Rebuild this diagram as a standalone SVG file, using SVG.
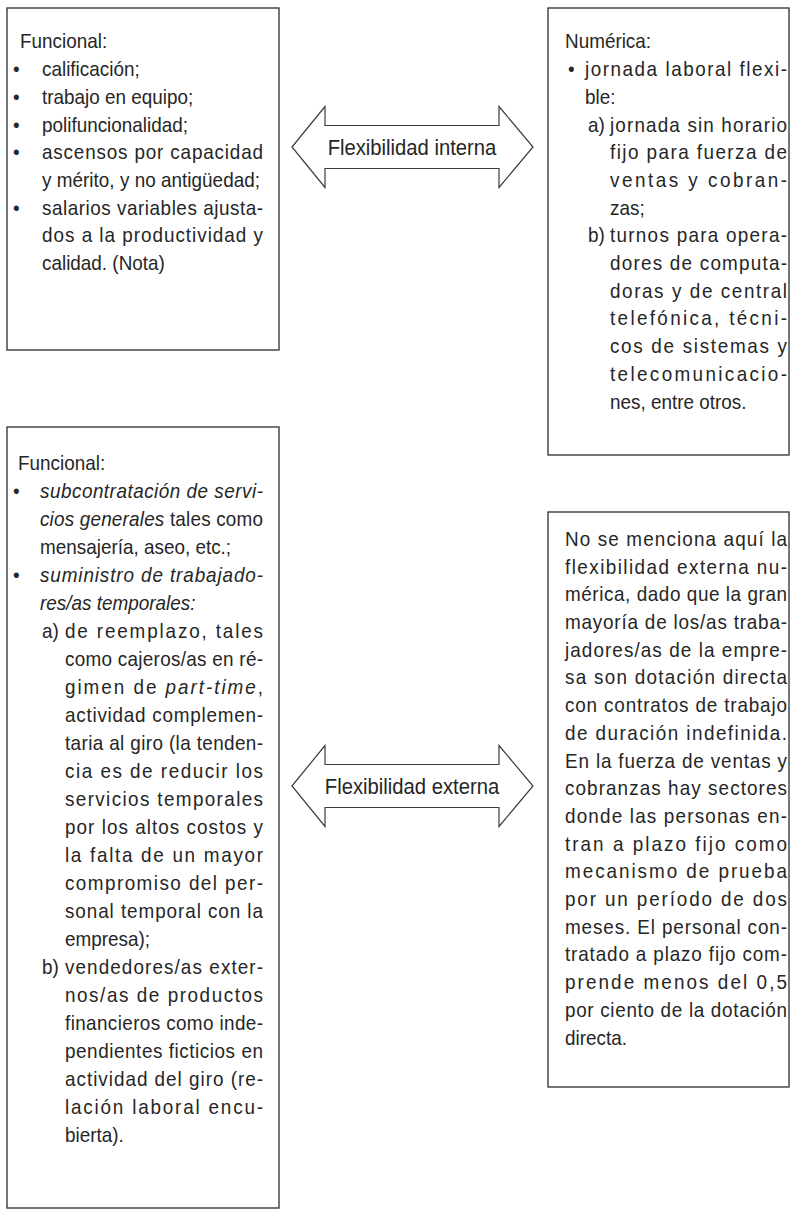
<svg xmlns="http://www.w3.org/2000/svg" width="791" height="1215" viewBox="0 0 791 1215">
<style>
text{font-family:"Liberation Sans",Arial,sans-serif;font-size:21px;fill:#262626}
.i{font-style:italic}
.box{fill:#fff;stroke:#3c3c3c;stroke-width:1.4}
.arr{fill:#fff;stroke:#3c3c3c;stroke-width:1.2}
.lbl{font-size:22.5px;text-anchor:middle}
.cond{transform:scale(0.9,1)}
</style>
<rect width="791" height="1215" fill="#fff"/>
<g id="box-interna-funcional">
<rect class="box" x="7" y="8" width="272" height="342"/>
<g transform="scale(0.9,1)">
<text x="22.22" y="48.5">Funcional:</text>
<text x="14.44" y="76.2">•</text><text x="46.67" y="76.2">calificación;</text>
<text x="14.44" y="103.9">•</text><text x="46.67" y="103.9">trabajo en equipo;</text>
<text x="14.44" y="131.6">•</text><text x="46.67" y="131.6">polifuncionalidad;</text>
<text x="14.44" y="159.3">•</text><text x="46.67" y="159.3" textLength="245.56" lengthAdjust="spacing">ascensos por capacidad</text>
<text x="46.67" y="187" textLength="242.22" lengthAdjust="spacing">y mérito, y no antigüedad;</text>
<text x="14.44" y="214.7">•</text><text x="46.67" y="214.7" textLength="245.56" lengthAdjust="spacing">salarios variables ajusta-</text>
<text x="46.67" y="242.4" textLength="245.56" lengthAdjust="spacing">dos a la productividad y</text>
<text x="46.67" y="270.1">calidad. (Nota)</text>
</g>
</g>
<g id="box-interna-numerica">
<rect class="box" x="548" y="8" width="241" height="447"/>
<g transform="scale(0.9,1)">
<text x="627.78" y="48.5">Numérica:</text>
<text x="631.11" y="76.2">•</text><text x="650" y="76.2" textLength="224.44" lengthAdjust="spacing">jornada laboral flexi-</text>
<text x="650" y="103.9">ble:</text>
<text x="653.33" y="131.6">a)</text><text x="677.78" y="131.6" textLength="196.67" lengthAdjust="spacing">jornada sin horario</text>
<text x="677.78" y="159.3" textLength="196.67" lengthAdjust="spacing">fijo para fuerza de</text>
<text x="677.78" y="187" textLength="196.67" lengthAdjust="spacing">ventas y cobran-</text>
<text x="677.78" y="214.7">zas;</text>
<text x="653.33" y="242.4">b)</text><text x="677.78" y="242.4" textLength="196.67" lengthAdjust="spacing">turnos para opera-</text>
<text x="677.78" y="270.1" textLength="196.67" lengthAdjust="spacing">dores de computa-</text>
<text x="677.78" y="297.8" textLength="196.67" lengthAdjust="spacing">doras y de central</text>
<text x="677.78" y="325.5" textLength="196.67" lengthAdjust="spacing">telefónica, técni-</text>
<text x="677.78" y="353.2" textLength="196.67" lengthAdjust="spacing">cos de sistemas y</text>
<text x="677.78" y="380.9" textLength="196.67" lengthAdjust="spacing">telecomunicacio-</text>
<text x="677.78" y="408.6">nes, entre otros.</text>
</g>
</g>
<g id="box-externa-funcional">
<rect class="box" x="7" y="427" width="272" height="781"/>
<g transform="scale(0.9,1)">
<text x="20" y="470">Funcional:</text>
<text x="14.44" y="498">•</text><text class="i" x="44.44" y="498" textLength="247.78" lengthAdjust="spacing">subcontratación de servi-</text>
<text x="44.44" y="526" textLength="247.78" lengthAdjust="spacing"><tspan class="i">cios generales</tspan> tales como</text>
<text x="44.44" y="554">mensajería, aseo, etc.;</text>
<text x="14.44" y="582">•</text><text class="i" x="44.44" y="582" textLength="247.78" lengthAdjust="spacing">suministro de trabajado-</text>
<text class="i" x="44.44" y="610">res/as temporales:</text>
<text x="46.67" y="638">a)</text><text x="72.22" y="638" textLength="220" lengthAdjust="spacing">de reemplazo, tales</text>
<text x="72.22" y="666" textLength="220" lengthAdjust="spacing">como cajeros/as en ré-</text>
<text x="72.22" y="694" textLength="220" lengthAdjust="spacing">gimen de <tspan class="i">part-time</tspan>,</text>
<text x="72.22" y="722" textLength="220" lengthAdjust="spacing">actividad complemen-</text>
<text x="72.22" y="750" textLength="220" lengthAdjust="spacing">taria al giro (la tenden-</text>
<text x="72.22" y="778" textLength="220" lengthAdjust="spacing">cia es de reducir los</text>
<text x="72.22" y="806" textLength="220" lengthAdjust="spacing">servicios temporales</text>
<text x="72.22" y="834" textLength="220" lengthAdjust="spacing">por los altos costos y</text>
<text x="72.22" y="862" textLength="220" lengthAdjust="spacing">la falta de un mayor</text>
<text x="72.22" y="890" textLength="220" lengthAdjust="spacing">compromiso del per-</text>
<text x="72.22" y="918" textLength="220" lengthAdjust="spacing">sonal temporal con la</text>
<text x="72.22" y="946">empresa);</text>
<text x="46.67" y="974">b)</text><text x="72.22" y="974" textLength="220" lengthAdjust="spacing">vendedores/as exter-</text>
<text x="72.22" y="1002" textLength="220" lengthAdjust="spacing">nos/as de productos</text>
<text x="72.22" y="1030" textLength="220" lengthAdjust="spacing">financieros como inde-</text>
<text x="72.22" y="1058" textLength="220" lengthAdjust="spacing">pendientes ficticios en</text>
<text x="72.22" y="1086" textLength="220" lengthAdjust="spacing">actividad del giro (re-</text>
<text x="72.22" y="1114" textLength="220" lengthAdjust="spacing">lación laboral encu-</text>
<text x="72.22" y="1142">bierta).</text>
</g>
</g>
<g id="box-externa-numerica">
<rect class="box" x="548" y="512" width="241" height="575"/>
<g transform="scale(0.9,1)">
<text x="627.78" y="546" textLength="246.67" lengthAdjust="spacing">No se menciona aquí la</text>
<text x="627.78" y="573.7" textLength="246.67" lengthAdjust="spacing">flexibilidad externa nu-</text>
<text x="627.78" y="601.4" textLength="246.67" lengthAdjust="spacing">mérica, dado que la gran</text>
<text x="627.78" y="629.1" textLength="246.67" lengthAdjust="spacing">mayoría de los/as traba-</text>
<text x="627.78" y="656.8" textLength="246.67" lengthAdjust="spacing">jadores/as de la empre-</text>
<text x="627.78" y="684.5" textLength="246.67" lengthAdjust="spacing">sa son dotación directa</text>
<text x="627.78" y="712.2" textLength="246.67" lengthAdjust="spacing">con contratos de trabajo</text>
<text x="627.78" y="739.9" textLength="246.67" lengthAdjust="spacing">de duración indefinida.</text>
<text x="627.78" y="767.6" textLength="246.67" lengthAdjust="spacing">En la fuerza de ventas y</text>
<text x="627.78" y="795.3" textLength="246.67" lengthAdjust="spacing">cobranzas hay sectores</text>
<text x="627.78" y="823" textLength="246.67" lengthAdjust="spacing">donde las personas en-</text>
<text x="627.78" y="850.7" textLength="246.67" lengthAdjust="spacing">tran a plazo fijo como</text>
<text x="627.78" y="878.4" textLength="246.67" lengthAdjust="spacing">mecanismo de prueba</text>
<text x="627.78" y="906.1" textLength="246.67" lengthAdjust="spacing">por un período de dos</text>
<text x="627.78" y="933.8" textLength="246.67" lengthAdjust="spacing">meses. El personal con-</text>
<text x="627.78" y="961.5" textLength="246.67" lengthAdjust="spacing">tratado a plazo fijo com-</text>
<text x="627.78" y="989.2" textLength="246.67" lengthAdjust="spacing">prende menos del 0,5</text>
<text x="627.78" y="1016.9" textLength="246.67" lengthAdjust="spacing">por ciento de la dotación</text>
<text x="627.78" y="1044.6">directa.</text>
</g>
</g>
<g id="connectors">
<g id="arrow-interna">
<polygon class="arr" points="292,147 325,106.5 325,125.5 499,125.5 499,106.5 533,147 499,187.5 499,168.5 325,168.5 325,187.5"/>
<text class="lbl" transform="scale(0.9,1)" x="457.78" y="155">Flexibilidad interna</text>
</g>
<g id="arrow-externa">
<polygon class="arr" points="292,786 325,745.5 325,764.5 499,764.5 499,745.5 533,786 499,826.5 499,807.5 325,807.5 325,826.5"/>
<text class="lbl" transform="scale(0.9,1)" x="457.78" y="794">Flexibilidad externa</text>
</g>
</g>
</svg>
